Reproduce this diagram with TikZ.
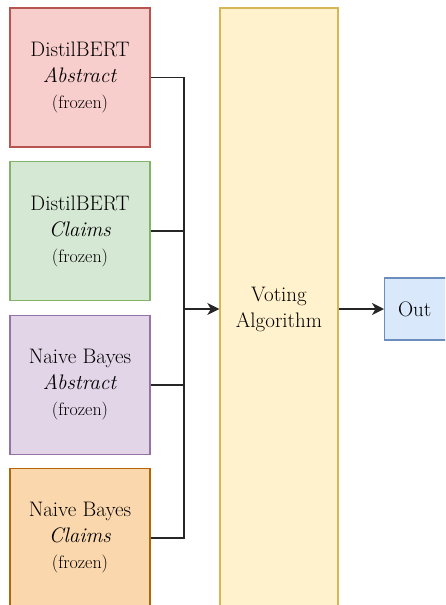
\documentclass[tikz,border=0pt]{standalone}
\usetikzlibrary{arrows.meta}
\definecolor{redf}{HTML}{F8CECC}\definecolor{redd}{HTML}{B85450}
\definecolor{grnf}{HTML}{D5E8D4}\definecolor{grnd}{HTML}{82B366}
\definecolor{purf}{HTML}{E1D5E7}\definecolor{purd}{HTML}{9673A6}
\definecolor{orgf}{HTML}{FAD7AC}\definecolor{orgd}{HTML}{B46504}
\definecolor{yelf}{HTML}{FFF2CC}\definecolor{yeld}{HTML}{D6B656}
\definecolor{bluf}{HTML}{DAE8FC}\definecolor{blud}{HTML}{6C8EBF}
\tikzset{
  box/.style={draw, line width=1.3pt, minimum width=140pt, minimum height=139pt, align=center, inner sep=0pt, font=\fontsize{21}{26}\selectfont},
  conn/.style={line width=1.4pt, draw=black!85},
  arr/.style={conn, -{Stealth[length=12pt,width=12pt,inset=3.5pt]}}
}
\newcommand{\frz}{{\fontsize{18}{26}\selectfont(frozen)}}
\begin{document}
\begin{tikzpicture}[x=1pt,y=1pt]
\useasboundingbox (0,0) rectangle (445,-605);
\begin{scope}
\clip (0,0) rectangle (445,-605);
\node[box, fill=redf, draw=redd] (a) at (80,-77.5) {DistilBERT\\\textit{Abstract}\\\frz};
\node[box, fill=grnf, draw=grnd] (b) at (80,-231) {DistilBERT\\\textit{Claims}\\\frz};
\node[box, fill=purf, draw=purd] (c) at (80,-385) {Naive Bayes\\\textit{Abstract}\\\frz};
\node[box, fill=orgf, draw=orgd] (d) at (80,-538) {Naive Bayes\\\textit{Claims}\\\frz};
\node[box, fill=yelf, draw=yeld, minimum width=118pt, minimum height=602pt] (v) at (279,-309) {Voting\\Algorithm};
\node[box, fill=bluf, draw=blud, minimum width=70pt, minimum height=62pt, anchor=west] (o) at (384,-309) {\hspace*{-10pt}Out};
\coordinate (j) at (184,-309);
\draw[conn] (a.east) -| (j);
\draw[conn] (b.east) -| (j);
\draw[conn] (c.east) -| (j);
\draw[conn] (d.east) -| (j);
\draw[arr] (j) -- (v);
\draw[arr] (v) -- (o);
\end{scope}
\end{tikzpicture}
\end{document}
